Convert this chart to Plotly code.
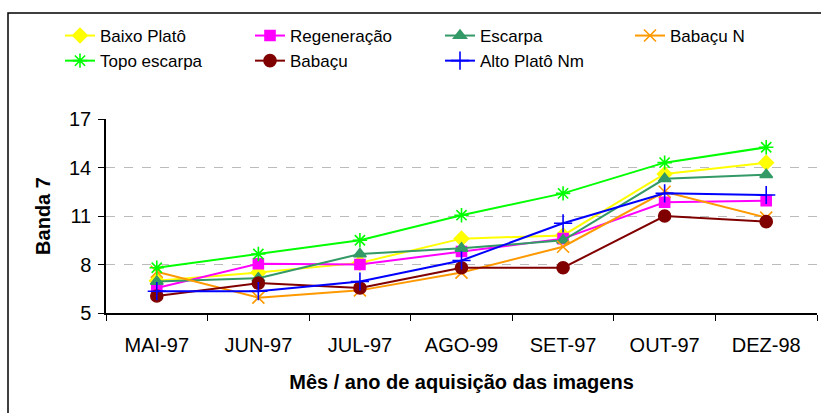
import plotly.graph_objects as go

categories = ["MAI-97", "JUN-97", "JUL-97", "AGO-99", "SET-97", "OUT-97", "DEZ-98"]

baixo_plato = [7.0, 7.5, 8.1, 9.6, 9.8, 13.6, 14.3]
regeneracao = [6.55, 8.05, 8.0, 8.8, 9.6, 11.85, 11.95]
escarpa = [6.95, 7.15, 8.65, 9.0, 9.5, 13.3, 13.55]
babacu_n = [7.55, 5.95, 6.4, 7.5, 9.1, 12.5, 10.9]
topo_escarpa = [7.8, 8.65, 9.5, 11.05, 12.4, 14.3, 15.25]
babacu = [6.05, 6.85, 6.55, 7.8, 7.8, 11.0, 10.65]
alto_plato_nm = [6.35, 6.35, 6.95, 8.25, 10.55, 12.4, 12.3]

series = [
    ("Baixo Platô", baixo_plato, "#FFFF00", "diamond", 11),
    ("Regeneração", regeneracao, "#FF00FF", "square", 10),
    ("Escarpa", escarpa, "#339966", "triangle-up", 11),
    ("Babaçu N", babacu_n, "#FF9900", "x-thin-open", 12),
    ("Topo escarpa", topo_escarpa, "#00FF00", "asterisk-open", 12),
    ("Babaçu", babacu, "#800000", "circle", 12),
    ("Alto Platô Nm", alto_plato_nm, "#0000FF", "cross-thin-open", 13),
]

fig = go.Figure()
for name, vals, color, sym, size in series:
    fig.add_trace(go.Scatter(
        x=categories, y=vals, name=name, mode="lines+markers",
        line=dict(color=color, width=2),
        marker=dict(symbol=sym, size=size, color=color, line=dict(color=color, width=1.6)),
    ))

W, H = 821, 413
L, R, T, B = 106, 4, 119, 100
pw = W - L - R
ph = H - T - B

def px_x(p):
    return (p - L) / pw

def px_y(p):
    return (H - B - p) / ph

fig.update_layout(
    width=W, height=H,
    margin=dict(l=L, r=R, t=T, b=B, pad=0, autoexpand=False),
    paper_bgcolor="white", plot_bgcolor="white",
    font=dict(family="Liberation Sans, Arial, sans-serif", color="black"),
    showlegend=True,
    legend=dict(
        orientation="h", x=px_x(60), y=px_y(18), xanchor="left", yanchor="top",
        font=dict(size=17), entrywidth=145, entrywidthmode="pixels",
        bgcolor="rgba(0,0,0,0)", tracegroupgap=0, itemwidth=30,
    ),
    xaxis=dict(
        type="category", showline=True, linecolor="black", linewidth=1.5,
        ticks="outside", tickson="boundaries", ticklen=6, tickcolor="black",
        tickfont=dict(size=20), showgrid=False, zeroline=False,
        ticklabelstandoff=13,
        title=dict(text="<b>Mês / ano de aquisição das imagens</b>", font=dict(size=20), standoff=20),
        range=[-0.5, 6.5],
    ),
    yaxis=dict(
        range=[5, 17], tickvals=[5, 8, 11, 14, 17], showline=True, linecolor="black", linewidth=1.5,
        ticks="outside", ticklen=6, tickcolor="black", tickfont=dict(size=20),
        ticklabelstandoff=3,
        showgrid=True, gridcolor="#BBBBBB", griddash="dash", gridwidth=1, zeroline=False,
        title=dict(text="<b>Banda 7</b>", font=dict(size=20), standoff=13),
    ),
    shapes=[dict(
        type="rect", xref="paper", yref="paper",
        x0=px_x(8), x1=px_x(830), y0=px_y(430), y1=px_y(13),
        line=dict(color="black", width=1.5), fillcolor="rgba(0,0,0,0)", layer="below",
    )],
)

fig.write_html("out.html", config={"displayModeBar": False},
               post_script="document.body.style.margin='0';")
